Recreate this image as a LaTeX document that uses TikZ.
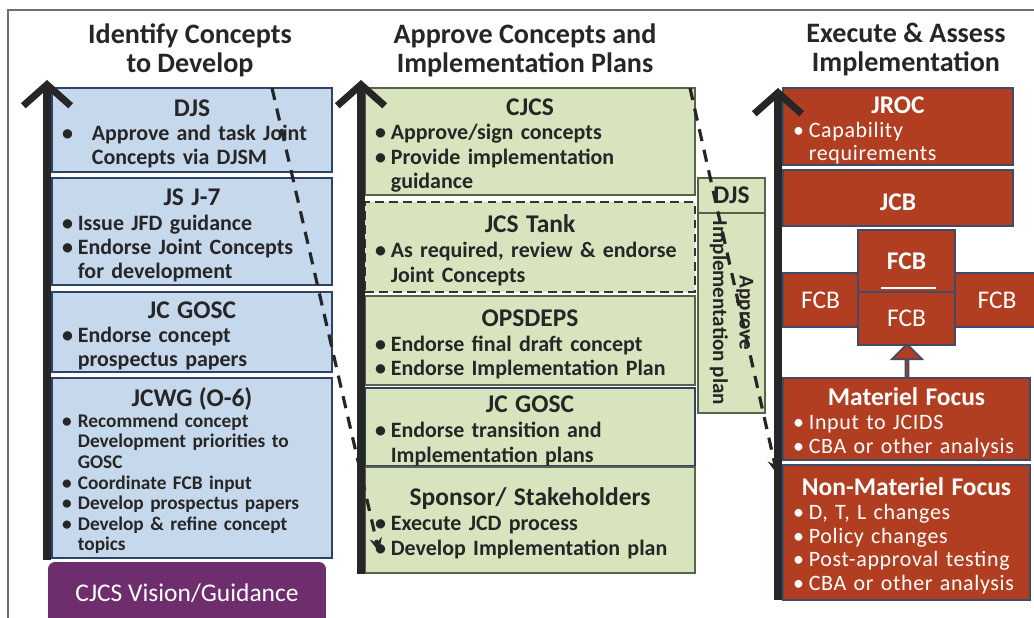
\documentclass[tikz,border=0pt]{standalone}
\usepackage{fontspec}
\setmainfont{Carlito}
\newfontfamily\spacedfont[LetterSpace=3]{Carlito}
\usetikzlibrary{arrows.meta, shapes.arrows, calc, positioning}

\definecolor{TextColor}{RGB}{38,38,38}
\definecolor{IdentifyFill}{RGB}{198,216,236}
\definecolor{IdentifyEdge}{RGB}{48,66,104}
\definecolor{ApproveFill}{RGB}{216,228,190}
\definecolor{ApproveEdge}{RGB}{92,98,74}
\definecolor{ExecuteFill}{RGB}{178,62,34}
\definecolor{ExecuteEdge}{RGB}{66,74,102}
\definecolor{VisionColor}{RGB}{110,46,110}
\definecolor{FrameColor}{RGB}{110,110,110}

\newcommand{\bhead}[1]{\par{\centering\normalfont\bfseries\fontsize{14.5}{14}\selectfont #1\par}}
\newcommand{\bitem}[2][9pt]{\par\noindent\hbox to #1{\textbullet\hfil}\parbox[t]{\dimexpr\hsize-#1\relax}{\raggedright\hyphenpenalty=10000 #2\par\xdef\bdepth{\the\prevdepth}}\par\prevdepth=\bdepth\relax}

\tikzstyle{coltitle} = [align=center, text=TextColor, font=\bfseries\fontsize{16}{16.5}\selectfont]
\tikzstyle{lbox} = [draw=IdentifyEdge, fill=IdentifyFill, line width=1.2pt, text width=5.2cm, inner xsep=0.2cm, inner ysep=0pt, align=left, text=TextColor, font=\bfseries\fontsize{12.5}{13.7}\selectfont]
\tikzstyle{mbox} = [draw=ApproveEdge, fill=ApproveFill, line width=1.2pt, text width=6.2cm, inner xsep=0.2cm, inner ysep=0pt, align=left, text=TextColor, font=\bfseries\fontsize{12.5}{14}\selectfont]
\tikzstyle{rbox} = [draw=ExecuteEdge, fill=ExecuteFill, line width=1.2pt, text width=4.2cm, inner xsep=0.2cm, inner ysep=0pt, align=left, text=white, font=\spacedfont\fontsize{12.5}{13.5}\selectfont]
\tikzstyle{fcb} = [draw=ExecuteEdge, fill=ExecuteFill, line width=1.2pt, text=white, font=\fontsize{14.5}{15}\selectfont]
\tikzstyle{bigarrow} = [line width=4pt, black!85, -{Straight Barb[length=12pt,width=27pt]}]
\tikzstyle{flow} = [line width=1.8pt, dash pattern=on 7pt off 5pt, black!85, -{Stealth[length=8pt,width=7pt]}]

\begin{document}
\begin{tikzpicture}[x=0.02cm, y=-0.02cm]
\useasboundingbox (0,0) rectangle (1034,618);
\draw[FrameColor, line width=0.8pt] (8,640) -- (8,10) -- (1050,10);

% Column titles
\node[coltitle] (titleL) at (190,50) {Identify Concepts\\to Develop};
\node[coltitle] (titleM) at (525,50) {Approve Concepts and\\Implementation Plans};
\node[coltitle] (titleR) at (906,50) {Execute \& Assess\\Implementation};

% Identify concepts
\node[lbox, minimum height=1.68cm] (djsL) at (192,130) {\bhead{DJS}\bitem[17pt]{Approve and task Joint\newline Concepts via DJSM}};
\node[lbox, minimum height=2.14cm] (jsj7) at (192,231.5) {\bhead{JS J-7}\bitem{Issue JFD guidance}\bitem{Endorse Joint Concepts\newline for development}};
\node[lbox, minimum height=1.6cm] (goscL) at (192,332) {\bhead{JC GOSC}\bitem{Endorse concept\newline prospectus papers}};
\node[lbox, minimum height=3.6cm, font=\bfseries\fontsize{11}{11.7}\selectfont] (jcwg) at (192,468) {\bhead{JCWG (O-6)}\bitem{Recommend concept\newline Development priorities to\newline GOSC}\bitem{Coordinate FCB input}\bitem{Develop prospectus papers}\bitem{Develop \& refine concept\newline topics}};
\node[fill=VisionColor, rounded corners=4pt, minimum width=5.56cm, minimum height=1.24cm, text=white, font=\fontsize{14.5}{15}\selectfont] (vision) at (187,593) {CJCS Vision/Guidance};

% Approve concepts
\node[mbox, minimum height=2.14cm] (cjcs) at (530,141.5) {\bhead{CJCS}\bitem{Approve/sign concepts}\bitem{Provide implementation\newline guidance}};
\node[mbox, draw=black!80, dash pattern=on 5pt off 3pt, minimum height=1.8cm] (tank) at (530,247) {\bhead{JCS Tank}\bitem{As required, review \& endorse\newline Joint Concepts}};
\node[mbox, minimum height=1.78cm] (opsdeps) at (530,340.5) {\bhead{OPSDEPS}\bitem{Endorse final draft concept}\bitem{Endorse Implementation Plan}};
\node[mbox, draw=IdentifyEdge, minimum height=1.4cm] (goscM) at (530,427) {\bhead{JC GOSC}\bitem{Endorse transition and\newline Implementation plans}};
\node[mbox, minimum height=2.12cm] (sponsor) at (530,520) {\bhead{Sponsor/ Stakeholders}\bitem{Execute JCD process}\bitem{Develop Implementation plan}};
\node[draw=ApproveEdge, fill=ApproveFill, line width=1.2pt, minimum width=1.34cm, minimum height=0.7cm, text=TextColor, font=\bfseries\fontsize{14.5}{15}\selectfont] (djsM) at (731.5,195.5) {DJS};
\node[draw=ApproveEdge, fill=ApproveFill, line width=1.2pt, rotate=-90, minimum width=4cm, minimum height=1.34cm, align=center, text=TextColor, font=\bfseries\fontsize{12}{15}\selectfont] (approve) at (731.5,313) {Approve\\Implementation plan};

% Execute and assess
\node[rbox, minimum height=1.54cm] (jroc) at (898,126.5) {\bhead{JROC}\bitem{Capability\newline requirements}};
\node[rbox, minimum height=1.12cm] (jcb) at (898,198) {\bhead{JCB}};
\node[fcb, minimum width=1.5cm, minimum height=1.08cm] (fcbL) at (820.5,300) {FCB};
\node[fcb, minimum width=1.7cm, minimum height=1.08cm] (fcbR) at (997,300) {FCB};
\node[fcb, minimum width=1.94cm, minimum height=1.24cm, font=\bfseries\fontsize{14.5}{15}\selectfont] (fcbT) at (906.5,261) {FCB};
\node[fcb, minimum width=1.94cm, minimum height=1.06cm] (fcbB) at (906.5,318.5) {FCB};
\draw[white, line width=1pt] ($(fcbT.south west)+(24,-5)$) -- ($(fcbT.south east)+(-20,-5)$);
\node[single arrow, draw=ExecuteEdge, fill=ExecuteFill, line width=1pt, shape border rotate=90, inner sep=0pt, minimum height=0.66cm, minimum width=0.6cm, single arrow head extend=0.15cm] (up) at (907,361.5) {};
\node[rbox, text width=4.54cm, minimum height=1.64cm] (mat) at (906.5,419) {\bhead{Materiel Focus}\bitem{Input to JCIDS}\bitem{CBA or other analysis}};
\node[rbox, text width=4.54cm, minimum height=2.7cm] (nonmat) at (906.5,532.5) {\bhead{Non-Materiel Focus}\bitem{D, T, L changes}\bitem{Policy changes}\bitem{Post-approval testing}\bitem{CBA or other analysis}};

% Dashed flows
\coordinate (f1s) at (272,88);
\coordinate (f1e) at (379,552);
\coordinate (f2s) at (690,88);
\coordinate (f2e) at (777,474);
\draw[flow] (f1s) -- (f1e);
\draw[flow] (f2s) -- (f2e);

% Upward arrows
\coordinate (aLb) at (47,560);
\coordinate (aLt) at (47,80);
\coordinate (aMb) at (361,574);
\coordinate (aMt) at (361,80);
\coordinate (aRb) at (778,600);
\coordinate (aRt) at (778,88);
\draw[bigarrow] (aLb) -- (aLt);
\draw[bigarrow] (aMb) -- (aMt);
\draw[bigarrow] (aRb) -- (aRt);
\end{tikzpicture}
\end{document}
